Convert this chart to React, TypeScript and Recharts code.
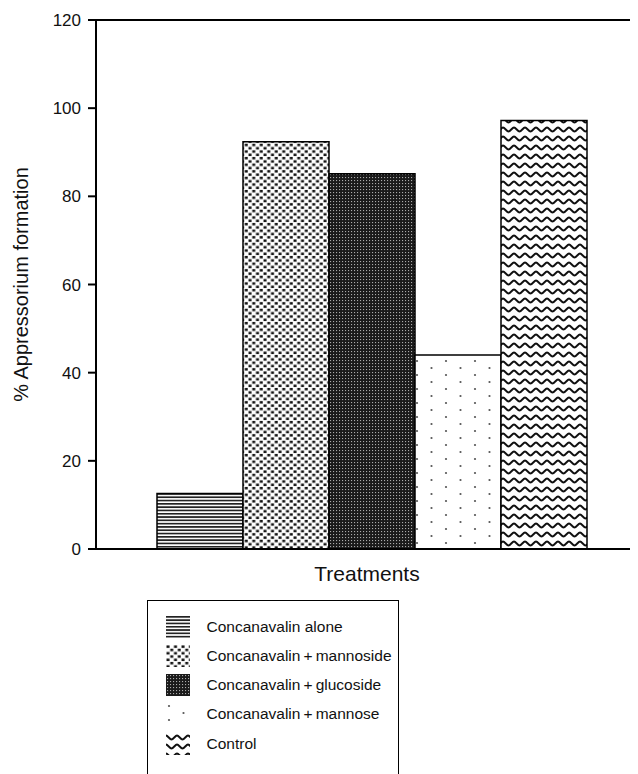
import { BarChart, Bar, XAxis, YAxis, ReferenceLine, Label } from 'recharts';

const seriesKeys = ['alone', 'mannoside', 'glucoside', 'mannose', 'control'];
const seriesNames = [
  'Concanavalin alone',
  'Concanavalin\u2009+\u2009mannoside',
  'Concanavalin\u2009+\u2009glucoside',
  'Concanavalin\u2009+\u2009mannose',
  'Control',
];
const seriesValues = [12.6, 92.4, 85.1, 44.0, 97.2];
const yTicks = [0, 20, 40, 60, 80, 100, 120];
const category = 'Treatments';

const patternIds = ['pat-hlines', 'pat-dots', 'pat-dense', 'pat-sparse', 'pat-wave'];

const data = [
  seriesKeys.reduce(
    (row, k, i) => ({ ...row, [k]: seriesValues[i] }),
    { name: category } as Record<string, string | number>
  ),
];

const font = '"Liberation Sans", Arial, sans-serif';

function Patterns() {
  return (
    <svg width={0} height={0} style={{ position: 'absolute' }}>
      <defs>
        <pattern id="pat-hlines" width={10} height={3.3} patternUnits="userSpaceOnUse">
          <rect width={10} height={3.3} fill="#fff" />
          <rect width={10} height={1.7} fill="#222" />
        </pattern>
        <pattern id="pat-dots" width={7.5} height={6.6} patternUnits="userSpaceOnUse">
          <rect width={7.5} height={6.6} fill="#fff" />
          <rect x={0.5} y={0.4} width={3} height={2.5} fill="#111" />
          <rect x={4.25} y={3.7} width={3} height={2.5} fill="#111" />
        </pattern>
        <pattern id="pat-dense" width={3} height={3} patternUnits="userSpaceOnUse">
          <rect width={3} height={3} fill="#1a1a1a" />
          <rect x={1} y={1} width={1.1} height={1.1} fill="#aaa" />
        </pattern>
        <pattern id="pat-sparse" width={29} height={14} patternUnits="userSpaceOnUse">
          <rect width={29} height={14} fill="#fff" />
          <circle cx={3} cy={3} r={1.1} fill="#555" />
          <circle cx={17.5} cy={10} r={1.1} fill="#555" />
        </pattern>
        <pattern id="pat-wave" width={11} height={9} patternUnits="userSpaceOnUse">
          <rect width={11} height={9} fill="#fff" />
          <path
            d="M-1 2.5 L0 2.5 C1.8 2.5 3.7 6.5 5.5 6.5 C7.3 6.5 9.2 2.5 11 2.5 L12 2.5"
            fill="none"
            stroke="#111"
            strokeWidth={1.9}
          />
        </pattern>
      </defs>
    </svg>
  );
}

export default function App() {
  return (
    <div style={{ position: 'relative', width: 630, height: 766, fontFamily: font }}>
      <Patterns />
      <BarChart
        width={630}
        height={600}
        data={data}
        margin={{ top: 12, right: 0, left: 0, bottom: 0 }}
        barGap={0}
        barSize={86}
      >
        <XAxis
          dataKey="name"
          tick={false}
          tickLine={false}
          axisLine={{ stroke: '#000', strokeWidth: 2 }}
          height={59}
          padding={{ left: 10, right: 0 }}
        >
          <Label
            value={category}
            position="insideTop"
            offset={17}
            style={{ fontFamily: font, fontSize: 21, fill: '#111' }}
          />
        </XAxis>
        <YAxis
          domain={[0, 120]}
          ticks={yTicks}
          width={88}
          tickSize={8}
          tickMargin={7}
          axisLine={{ stroke: '#000', strokeWidth: 2 }}
          tickLine={{ stroke: '#000', strokeWidth: 2 }}
          tick={{ fontFamily: font, fontSize: 17, fill: '#111' }}
        >
          <Label
            value="% Appressorium formation"
            angle={-90}
            position="insideLeft"
            offset={13}
            style={{ fontFamily: font, fontSize: 20, fill: '#111', textAnchor: 'middle' }}
          />
        </YAxis>
        <ReferenceLine y={120} stroke="#000" strokeWidth={2} />
        {seriesKeys.map((k, i) => (
          <Bar
            key={k}
            dataKey={k}
            name={seriesNames[i]}
            fill={`url(#${patternIds[i]})`}
            stroke="#000"
            strokeWidth={1.5}
            isAnimationActive={false}
          />
        ))}
      </BarChart>
      <div
        style={{
          position: 'absolute',
          left: 139,
          top: 592,
          width: 252,
          height: 200,
          border: '1.5px solid #000',
          boxSizing: 'border-box',
          paddingTop: 11,
          paddingLeft: 17.5,
          background: '#fff',
        }}
      >
        {seriesNames.map((n, i) => (
          <div
            key={n}
            style={{ display: 'flex', alignItems: 'center', height: 29.25, fontSize: 15.5, color: '#111' }}
          >
            <svg width={24} height={22} style={{ marginRight: 17, flex: 'none' }}>
              <rect width={24} height={22} fill={`url(#${patternIds[i]})`} />
            </svg>
            <span>{n}</span>
          </div>
        ))}
      </div>
    </div>
  );
}
